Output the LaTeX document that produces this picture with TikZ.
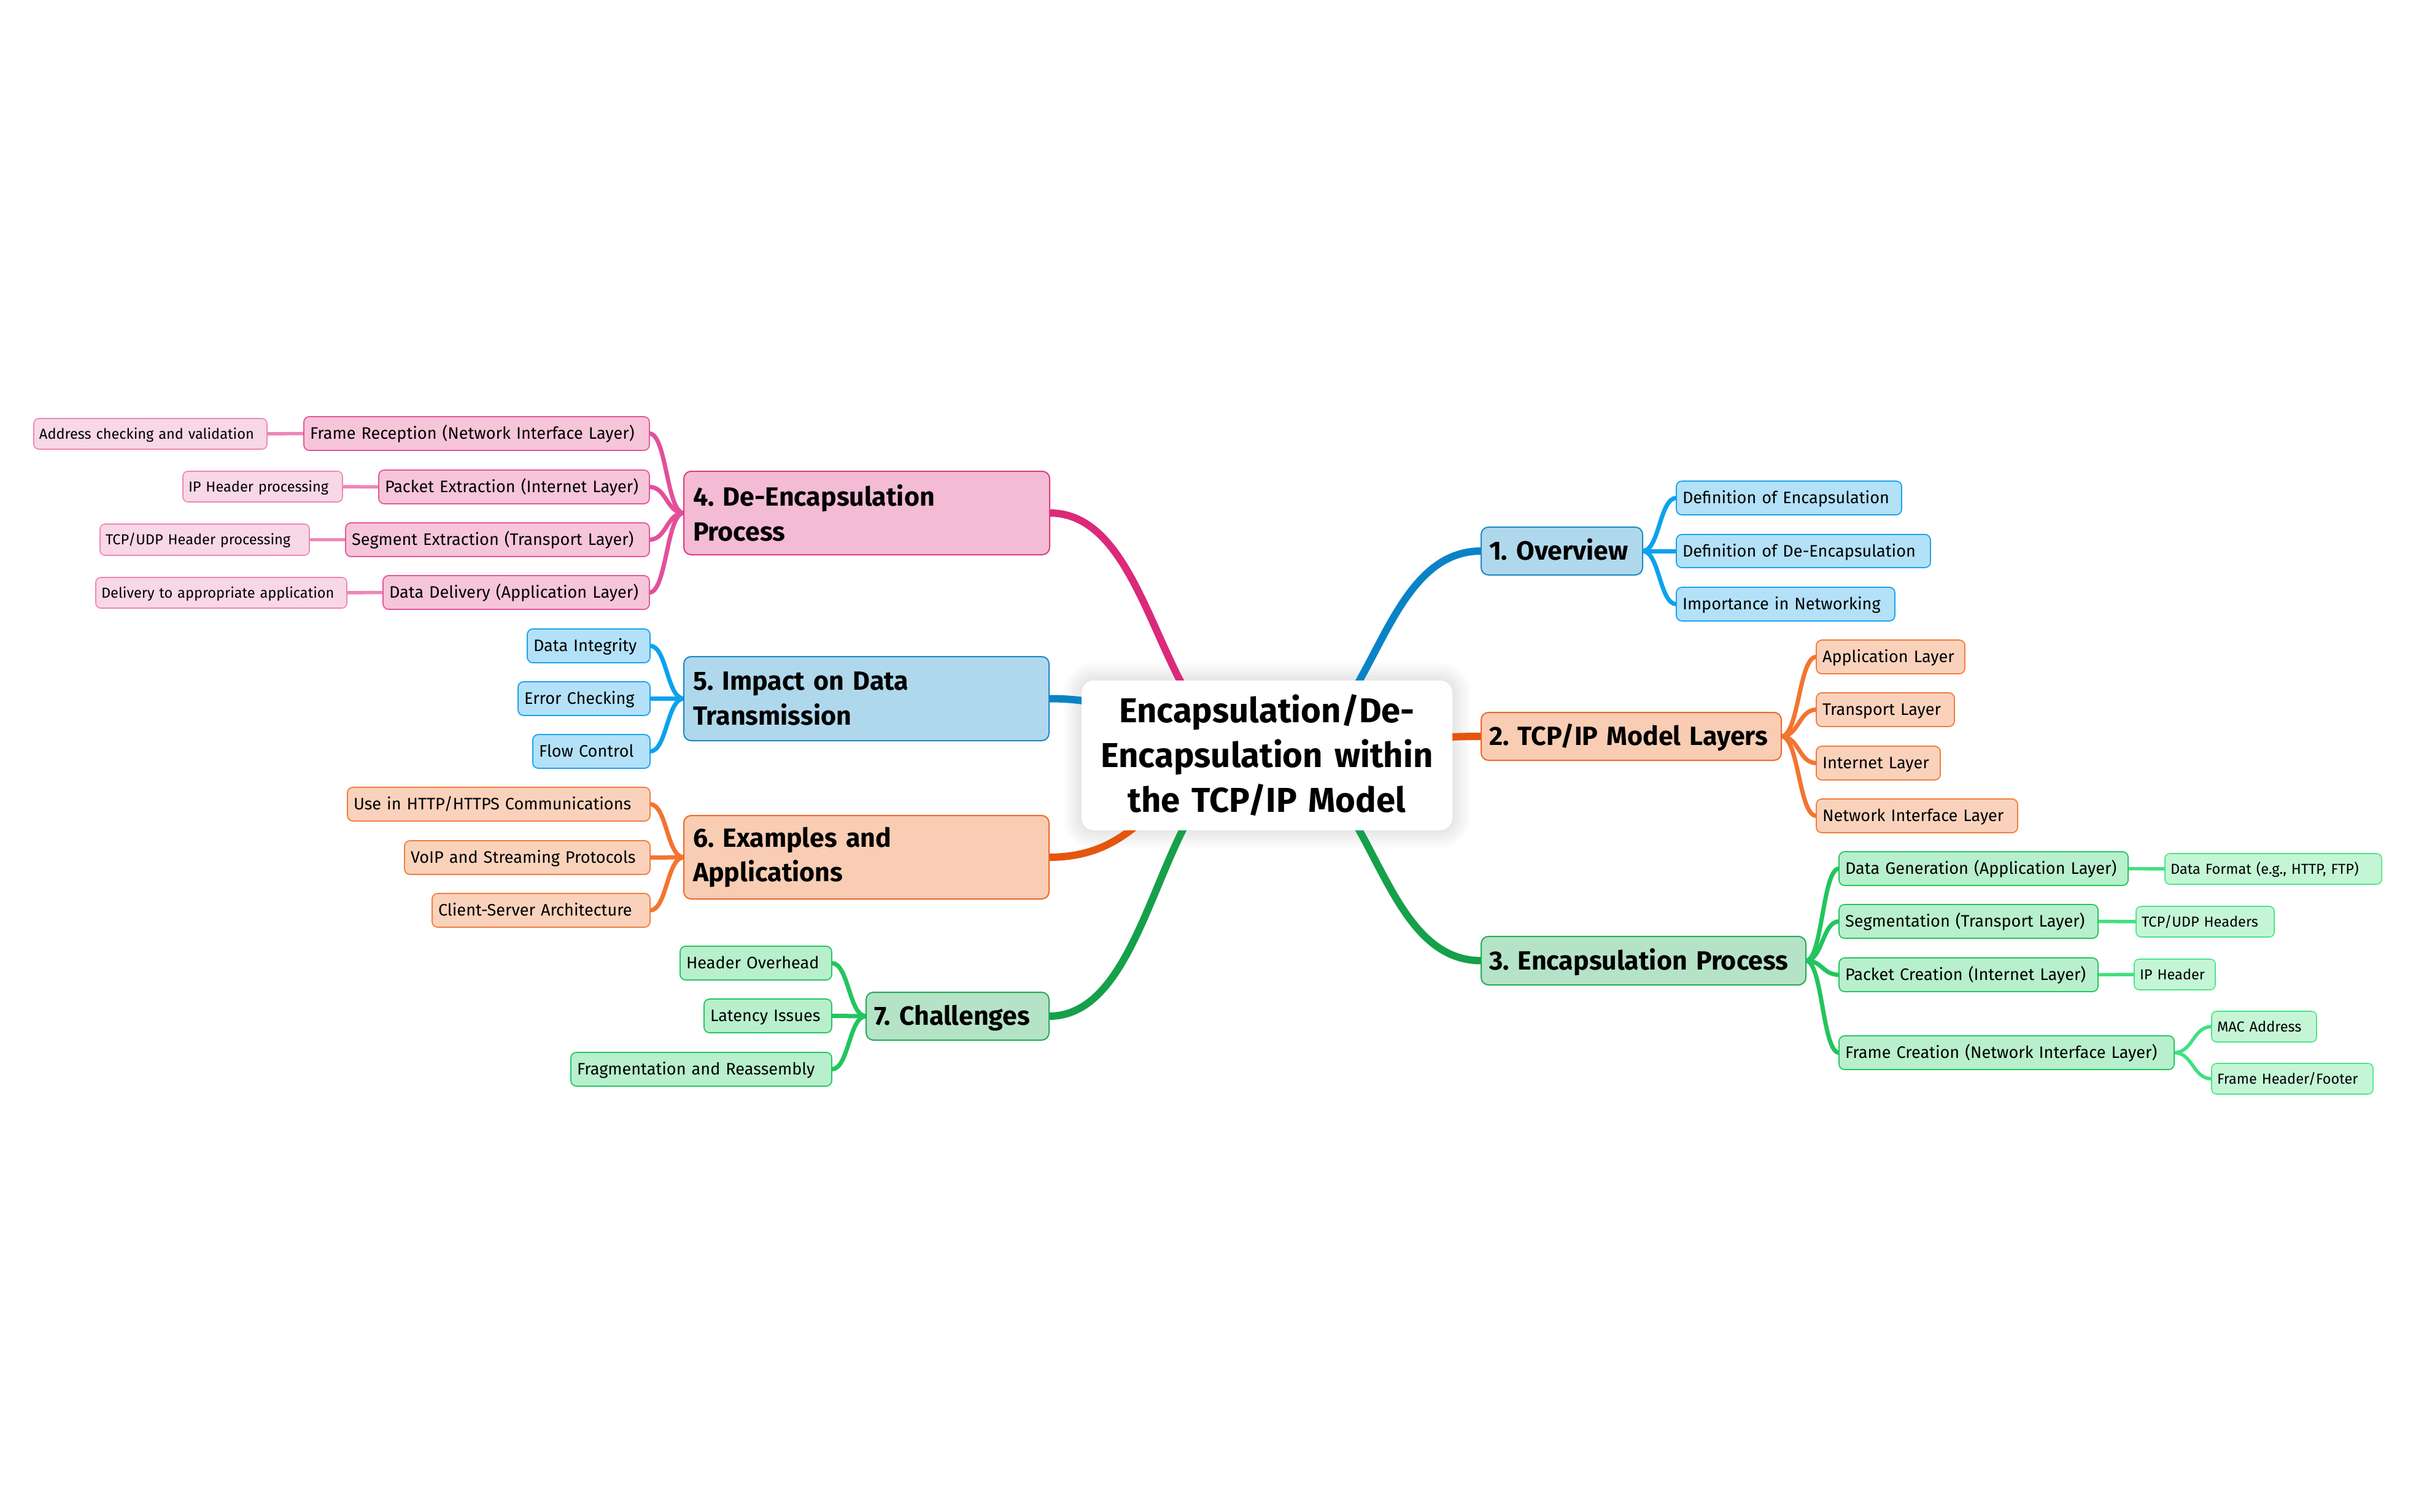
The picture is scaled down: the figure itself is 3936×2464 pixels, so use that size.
\documentclass[tikz,border=0pt]{standalone}
\usepackage{fontspec}
\setmainfont{Fira Sans}
\usetikzlibrary{calc}
\pgfdeclarelayer{bg}\pgfsetlayers{bg,main}
\definecolor{pinkLink}{HTML}{DB2A7A}
\definecolor{pinkOneFill}{HTML}{F3BBD4}
\definecolor{pinkOneDraw}{HTML}{DD3C86}
\definecolor{pinkTwoFill}{HTML}{F6C5DA}
\definecolor{pinkTwoDraw}{HTML}{E5559A}
\definecolor{pinkTwoLink}{HTML}{E3509A}
\definecolor{pinkThreeFill}{HTML}{F8D7E6}
\definecolor{pinkThreeDraw}{HTML}{EE86B7}
\definecolor{pinkThreeLink}{HTML}{EE86B7}
\definecolor{blueLink}{HTML}{0A83C6}
\definecolor{blueOneFill}{HTML}{B0D8EC}
\definecolor{blueOneDraw}{HTML}{1A8ACB}
\definecolor{blueTwoFill}{HTML}{B3E1F8}
\definecolor{blueTwoDraw}{HTML}{1AA3EC}
\definecolor{blueTwoLink}{HTML}{0BA2EE}
\definecolor{orangeLink}{HTML}{E4560F}
\definecolor{orangeOneFill}{HTML}{F8CDB3}
\definecolor{orangeOneDraw}{HTML}{EC6A2A}
\definecolor{orangeTwoFill}{HTML}{FAD2BC}
\definecolor{orangeTwoDraw}{HTML}{F47C3A}
\definecolor{orangeTwoLink}{HTML}{F47430}
\definecolor{greenLink}{HTML}{16A04A}
\definecolor{greenOneFill}{HTML}{B5E3C7}
\definecolor{greenOneDraw}{HTML}{22AD55}
\definecolor{greenTwoFill}{HTML}{B8EFCC}
\definecolor{greenTwoDraw}{HTML}{24C65F}
\definecolor{greenTwoLink}{HTML}{22C55E}
\definecolor{greenThreeFill}{HTML}{C4F6D6}
\definecolor{greenThreeDraw}{HTML}{4DE486}
\definecolor{greenThreeLink}{HTML}{40E07F}
% node from left, top, right, bottom (px)
\newcommand\bnode[8]{%
  \pgfmathsetlengthmacro\bw{(#6-#4)*0.01cm}%
  \pgfmathsetlengthmacro\bh{(#7-#5)*0.01cm}%
  \pgfmathsetlengthmacro\tw{(#6-#4-2*#2)*0.01cm}%
  \pgfmathsetlengthmacro\ps{#2*0.01cm}%
  \node[#1, inner xsep=\ps, minimum width=\bw, minimum height=\bh, text width=\tw] (#3) at ({(#4+#6)/2},{(#5+#7)/2}) {#8};}
\newcommand\lnk[3]{\draw[#1] let \p1=(#2), \p2=(#3) in (\p1) .. controls ({0.5*\x1+0.5*\x2},\y1) and ({0.5*\x1+0.5*\x2},\y2) .. (\p2);}
\begin{document}
\frenchspacing
\begin{tikzpicture}[x=0.01cm,y=-0.01cm,
  cen/.style={fill=white, draw=none, rounded corners=0.2cm, inner ysep=0pt, outer sep=0pt,
    font=\frenchspacing\bfseries\fontsize{16}{20.8}\selectfont, align=center},
  lone/.style={draw, line width=0.02cm, rounded corners=0.12cm, inner ysep=0pt, outer sep=0pt,
    font=\frenchspacing\bfseries\fontsize{12.2}{16}\selectfont, align=left},
  lones/.style={lone, text height=11.5pt, text depth=3pt},
  ltwo/.style={draw, line width=0.018cm, rounded corners=0.09cm, inner ysep=0pt, outer sep=0pt,
    font=\frenchspacing\fontsize{7.7}{9.5}\selectfont, align=left, text height=7.4pt, text depth=2.1pt},
  lthree/.style={draw, line width=0.016cm, rounded corners=0.08cm, inner ysep=0pt, outer sep=0pt,
    font=\frenchspacing\fontsize{6.7}{8.4}\selectfont, align=left, text height=6.5pt, text depth=1.9pt},
  pk1/.style={fill=pinkOneFill, draw=pinkOneDraw},
  pk2/.style={fill=pinkTwoFill, draw=pinkTwoDraw},
  pk3/.style={fill=pinkThreeFill, draw=pinkThreeDraw},
  bl1/.style={fill=blueOneFill, draw=blueOneDraw},
  bl2/.style={fill=blueTwoFill, draw=blueTwoDraw},
  or1/.style={fill=orangeOneFill, draw=orangeOneDraw},
  or2/.style={fill=orangeTwoFill, draw=orangeTwoDraw},
  gr1/.style={fill=greenOneFill, draw=greenOneDraw},
  gr2/.style={fill=greenTwoFill, draw=greenTwoDraw},
  gr3/.style={fill=greenThreeFill, draw=greenThreeDraw},
  mainlink/.style={line width=0.12cm},
  sublink/.style={line width=0.07cm},
  leaflink/.style={line width=0.055cm}]
\useasboundingbox (0,0) rectangle (3936,2464);
% central
\bnode{cen}{20}{c}{1762}{1109}{2366}{1353}{Encapsulation/De-\\Encapsulation within\\the TCP/IP Model}
% level 1
\bnode{lones,bl1}{13}{n1}{2413}{859}{2676}{937}{\mbox{1. Overview}}
\bnode{lones,or1}{13}{n2}{2413}{1161}{2902}{1239}{\mbox{2. TCP/IP Model Layers}}
\bnode{lones,gr1}{13}{n3}{2413}{1526}{2942}{1605}{\mbox{3. Encapsulation Process}}
\bnode{lone,pk1}{15}{n4}{1114}{768}{1710}{904}{4. De-Encapsulation\\Process}
\bnode{lone,bl1}{15}{n5}{1114}{1070}{1709}{1207}{5. Impact on Data\\Transmission}
\bnode{lone,or1}{15}{n6}{1114}{1329}{1709}{1465}{6. Examples and\\Applications}
\bnode{lones,gr1}{13}{n7}{1411}{1617}{1709}{1695}{\mbox{7. Challenges}}
% 1. Overview
\bnode{ltwo,bl2}{10}{b1}{2731}{784}{3098}{839}{Definition of Encapsulation}
\bnode{ltwo,bl2}{10}{b2}{2731}{871}{3145}{925}{Definition of De-Encapsulation}
\bnode{ltwo,bl2}{10}{b3}{2731}{957}{3087}{1012}{Importance in Networking}
% 2. Layers
\bnode{ltwo,or2}{10}{o1}{2959}{1043}{3201}{1098}{Application Layer}
\bnode{ltwo,or2}{10}{o2}{2959}{1129}{3184}{1184}{Transport Layer}
\bnode{ltwo,or2}{10}{o3}{2959}{1216}{3161}{1271}{Internet Layer}
\bnode{ltwo,or2}{10}{o4}{2959}{1302}{3287}{1357}{Network Interface Layer}
% 3. Encapsulation
\bnode{ltwo,gr2}{10}{g1}{2996}{1388}{3467}{1443}{Data Generation (Application Layer)}
\bnode{ltwo,gr2}{10}{g2}{2996}{1474}{3418}{1529}{Segmentation (Transport Layer)}
\bnode{ltwo,gr2}{10}{g3}{2996}{1561}{3418}{1616}{Packet Creation (Internet Layer)}
\bnode{ltwo,gr2}{10}{g4}{2996}{1688}{3542}{1743}{Frame Creation (Network Interface Layer)}
\bnode{lthree,gr3}{9}{h1}{3527}{1391}{3880}{1441}{Data Format (e.g., HTTP, FTP)}
\bnode{lthree,gr3}{9}{h2}{3480}{1477}{3705}{1527}{TCP/UDP Headers}
\bnode{lthree,gr3}{9}{h3}{3477}{1563}{3609}{1613}{IP Header}
\bnode{lthree,gr3}{9}{h4}{3603}{1648}{3774}{1698}{MAC Address}
\bnode{lthree,gr3}{9}{h5}{3603}{1733}{3866}{1783}{Frame Header/Footer}
% 4. De-Encapsulation
\bnode{ltwo,pk2}{10}{p1}{495}{679}{1058}{734}{Frame Reception (Network Interface Layer)}
\bnode{ltwo,pk2}{10}{p2}{617}{766}{1058}{821}{Packet Extraction (Internet Layer)}
\bnode{ltwo,pk2}{10}{p3}{563}{852}{1058}{907}{Segment Extraction (Transport Layer)}
\bnode{ltwo,pk2}{10}{p4}{624}{938}{1058}{993}{Data Delivery (Application Layer)}
\bnode{lthree,pk3}{9}{q1}{55}{682}{435}{732}{Address checking and validation}
\bnode{lthree,pk3}{9}{q2}{298}{768}{558}{818}{IP Header processing}
\bnode{lthree,pk3}{9}{q3}{163}{854}{504}{905}{TCP/UDP Header processing}
\bnode{lthree,pk3}{9}{q4}{156}{941}{565}{991}{Delivery to appropriate application}
% 5. Impact
\bnode{ltwo,bl2}{10}{d1}{859}{1025}{1059}{1080}{Data Integrity}
\bnode{ltwo,bl2}{10}{d2}{844}{1111}{1059}{1166}{Error Checking}
\bnode{ltwo,bl2}{10}{d3}{868}{1197}{1059}{1252}{Flow Control}
% 6. Examples
\bnode{ltwo,or2}{10}{e1}{566}{1283}{1059}{1338}{Use in HTTP/HTTPS Communications}
\bnode{ltwo,or2}{10}{e2}{659}{1370}{1059}{1425}{VoIP and Streaming Protocols}
\bnode{ltwo,or2}{10}{e3}{704}{1456}{1059}{1511}{Client-Server Architecture}
% 7. Challenges
\bnode{ltwo,gr2}{10}{k1}{1108}{1542}{1355}{1597}{Header Overhead}
\bnode{ltwo,gr2}{10}{k2}{1147}{1628}{1355}{1683}{Latency Issues}
\bnode{ltwo,gr2}{10}{k3}{930}{1715}{1355}{1770}{Fragmentation and Reassembly}
\begin{pgfonlayer}{bg}
\fill[white] (0,0) rectangle (3936,2464);
% soft shadow of the central topic
\foreach \i in {1,...,12}{
  \fill[black, opacity=0.009, rounded corners={(0.2+0.025*\i)*1cm}]
    ($(c.north west)+(-2.5*\i,-2.5*\i)$) rectangle ($(c.south east)+(2.5*\i,2.5*\i)$);}
% main branches
\lnk{mainlink,draw=blueLink}{c.center}{n1.west}
\lnk{mainlink,draw=orangeLink}{c.center}{n2.west}
\lnk{mainlink,draw=greenLink}{c.center}{n3.west}
\lnk{mainlink,draw=pinkLink}{c.center}{n4.east}
\lnk{mainlink,draw=blueLink}{c.center}{n5.east}
\lnk{mainlink,draw=orangeLink}{c.center}{n6.east}
\lnk{mainlink,draw=greenLink}{c.center}{n7.east}
% level 2
\foreach \t in {b1,b2,b3}{\lnk{sublink,draw=blueTwoLink}{n1.east}{\t.west}}
\foreach \t in {o1,o2,o3,o4}{\lnk{sublink,draw=orangeTwoLink}{n2.east}{\t.west}}
\foreach \t in {g1,g2,g3,g4}{\lnk{sublink,draw=greenTwoLink}{n3.east}{\t.west}}
\foreach \t in {p1,p2,p3,p4}{\lnk{sublink,draw=pinkTwoLink}{n4.west}{\t.east}}
\foreach \t in {d1,d2,d3}{\lnk{sublink,draw=blueTwoLink}{n5.west}{\t.east}}
\foreach \t in {e1,e2,e3}{\lnk{sublink,draw=orangeTwoLink}{n6.west}{\t.east}}
\foreach \t in {k1,k2,k3}{\lnk{sublink,draw=greenTwoLink}{n7.west}{\t.east}}
% level 3
\lnk{leaflink,draw=pinkThreeLink}{p1.west}{q1.east}
\lnk{leaflink,draw=pinkThreeLink}{p2.west}{q2.east}
\lnk{leaflink,draw=pinkThreeLink}{p3.west}{q3.east}
\lnk{leaflink,draw=pinkThreeLink}{p4.west}{q4.east}
\lnk{leaflink,draw=greenThreeLink}{g1.east}{h1.west}
\lnk{leaflink,draw=greenThreeLink}{g2.east}{h2.west}
\lnk{leaflink,draw=greenThreeLink}{g3.east}{h3.west}
\lnk{leaflink,draw=greenThreeLink}{g4.east}{h4.west}
\lnk{leaflink,draw=greenThreeLink}{g4.east}{h5.west}
\end{pgfonlayer}
\end{tikzpicture}
\end{document}
